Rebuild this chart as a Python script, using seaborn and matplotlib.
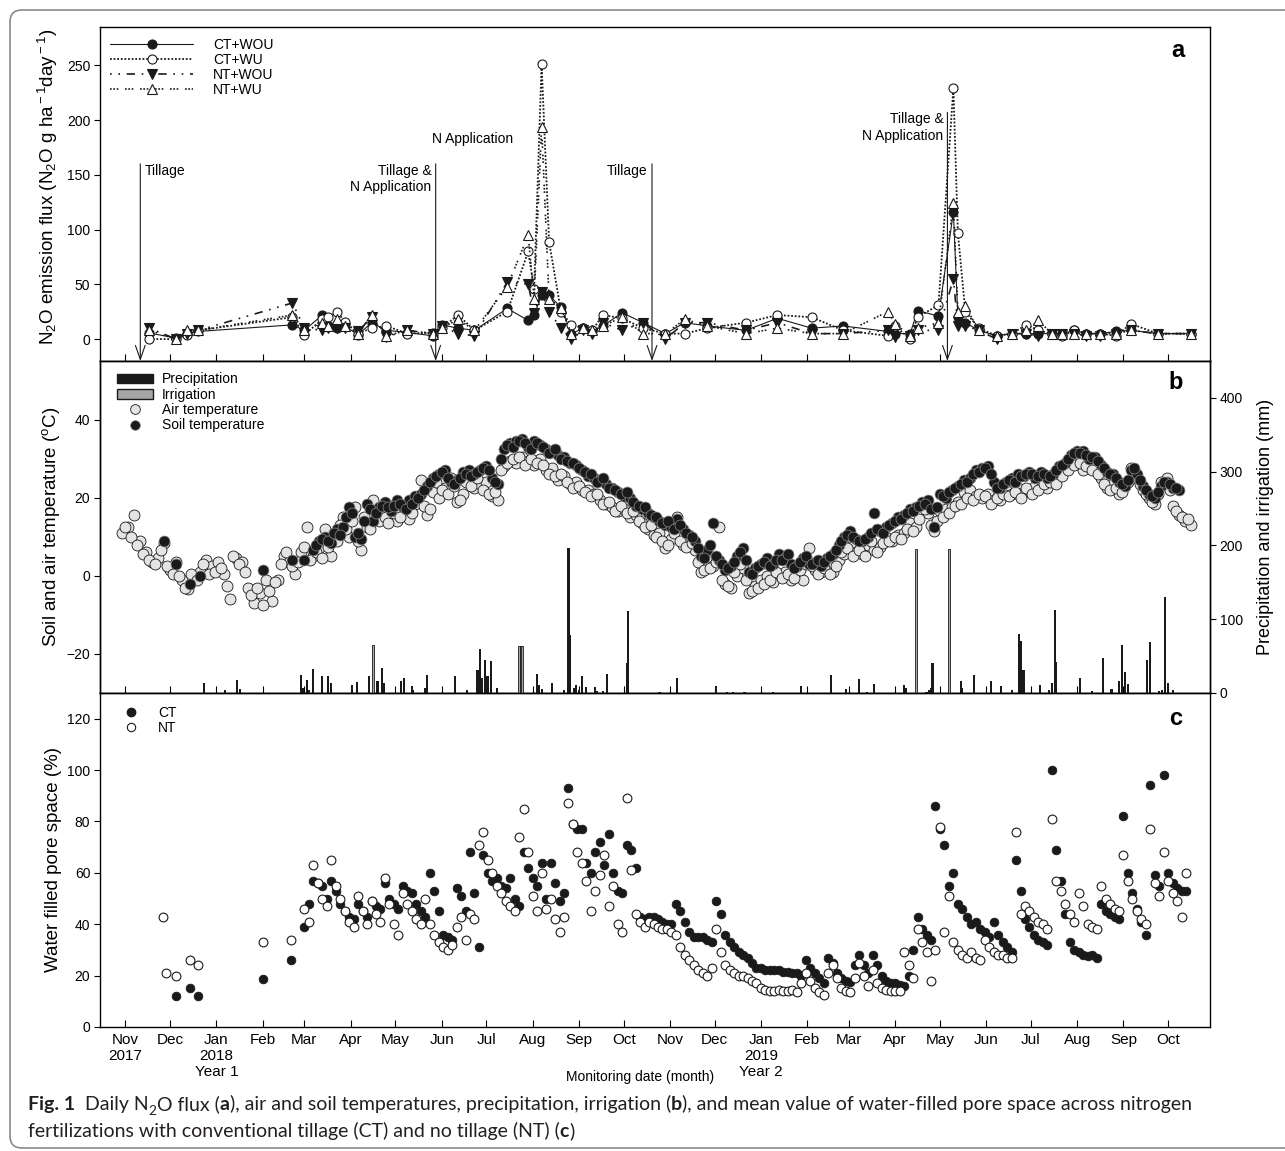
import matplotlib
matplotlib.use("Agg")
import matplotlib.pyplot as plt
import matplotlib.dates as mdates
from matplotlib.ticker import FuncFormatter
from matplotlib.lines import Line2D
from matplotlib.patches import Patch, FancyBboxPatch
from matplotlib.transforms import IdentityTransform
import pandas as pd
import seaborn as sns

# ---------------- data ----------------
# (a) daily N2O flux, g N2O ha-1 day-1
flux_dates = ['2017-11-17', '2017-12-05', '2017-12-12', '2017-12-20', '2018-02-21', '2018-03-01',
              '2018-03-13', '2018-03-17', '2018-03-23', '2018-03-28', '2018-04-06', '2018-04-15',
              '2018-04-25', '2018-05-09', '2018-05-26', '2018-06-01', '2018-06-12', '2018-06-23',
              '2018-07-15', '2018-07-29', '2018-08-02', '2018-08-07', '2018-08-12', '2018-08-20',
              '2018-08-27', '2018-09-04', '2018-09-10', '2018-09-17', '2018-09-30', '2018-10-14',
              '2018-10-29', '2018-11-11', '2018-11-26', '2018-12-22', '2019-01-12', '2019-02-04',
              '2019-02-25', '2019-03-27', '2019-04-01', '2019-04-11', '2019-04-16', '2019-04-30',
              '2019-05-10', '2019-05-13', '2019-05-18', '2019-05-27', '2019-06-08', '2019-06-18',
              '2019-06-28', '2019-07-06', '2019-07-15', '2019-07-22', '2019-07-30', '2019-08-07',
              '2019-08-16', '2019-08-27', '2019-09-06', '2019-09-24', '2019-10-16']
ct_wou = [5.5, 1, 5, 7, 13, 8, 22, 12, 10, 12, 4, 15, 8, 6, 3, 13, 10, 8, 28, 17, 22, 40, 40, 29, 5,
          10, 7, 12, 24, 15, 5, 15, 12, 8, 19, 10, 12, 7, 5, 5, 26, 21, 116, 20, 15, 8, 3, 5, 5, 5,
          5, 5, 8, 5, 5, 7, 8, 5, 5]
ct_wu = [0, 0, 4, 8, 20, 4, 18, 20, 25, 16, 5, 10, 12, 5, 6, 10, 22, 8, 25, 80, 46, 251, 89, 25, 13,
         10, 8, 22, 19, 10, 5, 5, 10, 15, 22, 20, 8, 3, 12, 0, 20, 31, 229, 97, 25, 10, 3, 5, 13, 8,
         5, 3, 8, 5, 5, 3, 14, 5, 5]
nt_wou = [10, 0, 5, 8, 33, 10, 8, 10, 10, 10, 7, 20, 2, 8, 5, 12, 5, 3, 52, 50, 24, 43, 25, 10, 0,
          8, 5, 15, 8, 15, 0, 15, 15, 8, 15, 5, 5, 8, 1.5, 3, 8, 8, 55, 12, 12, 8, 0, 5, 5, 3,
          5, 5, 5, 3, 3, 5, 8, 5, 5]
nt_wu = [8, 0, 8, 8, 22, 8, 15, 12, 18, 12, 5, 22, 3, 8, 5, 10, 18, 8, 48, 95, 37, 194, 37, 28, 5,
         10, 8, 12, 20, 5, 5, 18, 12, 5, 10, 5, 5, 25, 14, 3, 10, 15, 124, 25, 30, 8, 3, 5, 8, 17,
         5, 5, 5, 5, 5, 5, 8, 5, 5]
flux_labels = ['CT+WOU', 'CT+WU', 'NT+WOU', 'NT+WU']

event_dates = ['2017-11-11', '2018-05-28', '2018-10-20', '2019-05-06']
event_labels = ['Tillage', 'Tillage &\nN Application', 'Tillage', 'Tillage &\nN Application']
n_app_date = '2018-06-22'

# (b) air temperature, deg C: two interleaved 4-day readings
air_start = '2017-10-30'
air_temp = [11, 12.5, 15.5, 9, 6, 3.5, 4.5, 8.5, 1.5, 3.5,
            -1, -3.5, -0.5, 1, 4, 2.5, 3.5, 0.5, -6, 4.5,
            3.5, -3, -7, -4.5, -1, -6.5, -1, 5, 3.5, 0.5,
            6, 12.5, 5, 7, 12, 5, 9, 15, 10, 17.5,
            6.5, 12.5, 19.5, 14, 15, 18, 14, 17, 14.5, 18.5,
            24.5, 15.5, 21.5, 20, 22.5, 25, 19, 21, 25.5, 22.5,
            23.5, 24, 20.5, 19.5, 28, 29.5, 29, 30.5, 29.5, 28.5,
            30, 27, 27.5, 24.5, 25.5, 23.5, 24, 22, 22, 21,
            19.5, 18.5, 17.5, 16.5, 17, 15, 15.5, 13.5, 12, 10.5,
            11, 7, 9.5, 15, 8, 9.5, 6.5, 1, 4, 2.5,
            12.5, -2, -3, 0, 2, -4.5, -2.5, -1, 0, -1.5,
            0.5, 1, -1, 0.5, -1, 7, 1.5, 1, 3, 1,
            4, 5.5, 7.5, 6, 5.5, 8, 6.5, 7.5, 10, 9,
            10.5, 11, 13.5, 12.5, 18.5, 16, 11.5, 16.5, 17, 17.5,
            19, 21.5, 22, 20.5, 20, 21, 19.5, 19.5, 22, 21,
            22.5, 21.5, 22, 23, 24.5, 22.5, 25, 26, 27.5, 29.5,
            30.5, 27, 28.5, 27.5, 25, 22.5, 23.5, 21, 23, 27.5,
            25, 22, 20, 18.5, 24, 25, 18, 15.5, 14, 13]
air_start_b = '2017-11-01'
air_temp_b = [12.5, 10, 8, 5.5, 4, 3, 6.5, 2.5, 0.5, 0,
              -3, 0.5, -1, 3, 0.5, 1, 2, -2.5, 5, 3,
              1, -5, -3, -7.5, -4, -1.5, 3, 6, 2.5, 3.5,
              7.5, 4, 6, 4.5, 7.5, 11, 13, 12, 14, 9,
              15, 12, 16, 17.5, 13.5, 16, 15, 18, 16, 20,
              18, 17, 24, 22, 21, 23, 19.5, 24, 23, 25,
              22, 21, 21.5, 27, 29, 30, 30.5, 28.5, 30, 29,
              28.5, 26, 25.5, 26, 24, 22.5, 23, 21.5, 20.5, 21,
              18.5, 19, 16.5, 18, 16, 16.5, 14, 12.5, 13, 10,
              9, 8, 11, 9, 7.5, 8.5, 3.5, 1.5, 2, 3.5,
              -1, -2.5, 1, 3, -1, -4, -3, -2, -1, 1,
              -0.5, 0.5, -0.5, 1.5, 3, 2.5, 0.5, 2, 0.5, 2.5,
              6, 7, 5, 6.5, 5, 9, 6, 8.5, 9, 10,
              9.5, 12, 11.5, 14.5, 17, 13, 14, 15, 16, 18,
              18.5, 20, 19.5, 21, 20.5, 18.5, 20, 21, 20.5, 21.5,
              20, 22.5, 21, 22, 23.5, 24, 23.5, 25.5, 27, 28.5,
              29, 28, 27, 26, 23.5, 22, 22.5, 21.5, 24, 26,
              23.5, 21, 19, 21, 23.5, 22, 16.5, 15, 14.5]
# soil temperature: a few early readings, then two interleaved 4-day readings
soil_early_dates = ['2017-11-27', '2017-12-05', '2017-12-14', '2017-12-21', '2018-02-01',
                    '2018-02-21', '2018-03-01']
soil_early_temp = [9, 3, -2, 0, 1.5, 4, 4]
soil_start = '2018-03-07'
soil_temp = [6.5, 9, 10, 8.5, 12, 12.5, 17.5, 10, 9.5, 18.5,
             14, 17.5, 19, 16.5, 19.5, 17.5, 19.5, 20.5, 21, 23,
             25, 26, 27, 24, 24.5, 26.5, 27, 26, 27, 28,
             25, 23.5, 32.5, 34, 34.5, 35, 33, 34.5, 33.5, 32.5,
             32, 31, 30.5, 29, 28.5, 27, 25.5, 25, 24.5, 23.5,
             22.5, 21.5, 20.5, 20, 18, 17, 16, 15, 14, 13,
             12.5, 14.5, 12, 10.5, 9, 5, 6.5, 13.5, 4, 1.5,
             2.5, 5, 7, 1, 2, 3, 4.5, 3, 5.5, 4.5,
             3, 2.5, 4.5, 3, 3.5, 2.5, 4.5, 5.5, 8, 10,
             11.5, 9.5, 9, 10, 16, 11.5, 12.5, 13.5, 15, 15.5,
             17, 17.5, 19, 19.5, 12.5, 21, 20, 22, 23, 24.5,
             25, 27, 27.5, 28, 24, 22.5, 24, 25, 26, 25.5,
             26.5, 25, 26.5, 25, 26, 28, 29, 31, 32, 32,
             30, 30.5, 28.5, 26.5, 26, 24, 23, 27, 26, 23,
             21, 20, 23, 24, 22.5, 22]
soil_start_b = '2018-03-09'
soil_temp_b = [8, 9.5, 9, 11, 10.5, 15, 16, 11, 14, 17,
               16, 18, 17.5, 18, 18.5, 17, 18.5, 20, 22, 24,
               25.5, 26.5, 25, 23.5, 25, 26, 25.5, 26.5, 27.5, 27,
               24, 30, 33.5, 33, 34.5, 34, 32.5, 34, 33, 31.5,
               32.5, 30, 29.5, 29, 27.5, 26.5, 26, 24, 25, 22.5,
               22, 21, 21.5, 19, 18, 17.5, 15.5, 15, 13.5, 14,
               12, 13, 11, 10, 7, 4.5, 8, 5, 3, 2,
               3.5, 6, 4, 0.5, 2.5, 3.5, 2.5, 4, 4, 5.5,
               2, 3.5, 5, 3, 4, 3.5, 5, 6.5, 9, 10.5,
               10, 9, 9.5, 11, 12, 11, 13, 14, 14.5, 16,
               16.5, 18, 18.5, 17, 17.5, 20.5, 21.5, 22.5, 23.5, 24,
               26, 26.5, 27.5, 26, 22.5, 23.5, 24.5, 24, 25.5, 26,
               26, 25.5, 26, 25.5, 27, 28.5, 30, 31.5, 31.5, 31,
               30.5, 29.5, 27.5, 26, 25, 23.5, 24.5, 27.5, 24.5, 22,
               20.5, 21.5, 24, 23.5, 22.5]

# precipitation and irrigation, mm
precip_dates = ['2017-12-24', '2018-01-07', '2018-01-15', '2018-01-17', '2018-02-27', '2018-02-28',
                '2018-03-03', '2018-03-04', '2018-03-07', '2018-03-13', '2018-03-17', '2018-03-19',
                '2018-04-02', '2018-04-05', '2018-04-13', '2018-04-19', '2018-04-22', '2018-04-23',
                '2018-05-05', '2018-05-07', '2018-05-12', '2018-05-13', '2018-05-21', '2018-05-22',
                '2018-06-10', '2018-06-18', '2018-06-25', '2018-06-27', '2018-06-28', '2018-06-30',
                '2018-07-01', '2018-07-02', '2018-07-04', '2018-07-08', '2018-08-04', '2018-08-05',
                '2018-08-07', '2018-08-14', '2018-08-22', '2018-08-25', '2018-08-26', '2018-08-29',
                '2018-08-30', '2018-09-01', '2018-09-03', '2018-09-06', '2018-09-12', '2018-09-13',
                '2018-09-17', '2018-09-20', '2018-10-03', '2018-10-04', '2018-10-25', '2018-11-06',
                '2018-12-02', '2018-12-09', '2018-12-13', '2018-12-21', '2019-01-09', '2019-01-28',
                '2019-02-17', '2019-02-27', '2019-03-08', '2019-03-13', '2019-03-18', '2019-04-07',
                '2019-04-08', '2019-04-22', '2019-04-24', '2019-04-25', '2019-04-26', '2019-05-15',
                '2019-05-16', '2019-05-24', '2019-06-04', '2019-06-11', '2019-06-18', '2019-06-23',
                '2019-06-24', '2019-06-26', '2019-07-07', '2019-07-13', '2019-07-15', '2019-07-17',
                '2019-07-18', '2019-08-03', '2019-08-11', '2019-08-18', '2019-08-24', '2019-08-29',
                '2019-08-31', '2019-09-02', '2019-09-04', '2019-09-17', '2019-09-19', '2019-09-25',
                '2019-09-27', '2019-09-29', '2019-10-01', '2019-10-04']
precip_mm = [13, 4.5, 17, 5, 25, 7,
             18, 4.5, 32, 23, 23, 13.5,
             11, 15, 23.5, 16, 34, 13.5,
             16, 20, 10, 4.5, 7, 25,
             23, 4.5, 31, 60, 20, 45,
             23, 23, 44, 7, 26, 11,
             5.4, 13.5, 4.5, 197, 79, 7,
             11, 4.5, 23.5, 8, 7.7, 3,
             3, 26, 40, 111, 2, 20,
             10, 1, 1.5, 1.5, 1.5, 9,
             25, 5, 19, 2, 12.6, 11,
             7, 2, 4.5, 7, 41, 16,
             7, 25, 16, 10, 4.5, 80,
             70, 31, 11, 4.5, 13.6, 113,
             42, 21, 3, 47, 5.4, 16,
             65, 28, 12, 45, 69, 3,
             4.5, 130, 13.6, 4.5]
irrig_dates = ['2018-04-16', '2018-07-23', '2018-07-24', '2018-07-25', '2019-04-15', '2019-05-07']
irrig_mm = [65, 64, 64, 64, 195, 195]

# (c) water filled pore space (%), sparse early readings then every 3 days from 2018-03-01
ct_early_dates = ['2017-12-05', '2017-12-14', '2017-12-20', '2018-02-01', '2018-02-20']
ct_early = [12, 15, 12, 18.5, 26]
nt_early_dates = ['2017-11-26', '2017-11-28', '2017-12-05', '2017-12-14', '2017-12-20',
                  '2018-02-01', '2018-02-20']
nt_early = [43, 21, 20, 26, 24, 33, 34]
wfps_start = '2018-03-01'
wfps_ct = [39, 48, 57, 56, 55, 50, 57, 53, 48, 45,
           43, 42, 48, 45, 43, 49, 47, 46, 56, 50,
           48, 46, 55, 53, 52, 48, 45, 43, 60, 53,
           45, 36, 35, 34, 54, 51, 45, 68, 52, 31,
           67, 60, 57, 58, 55, 54, 58, 50, 47, 68,
           62, 58, 55, 64, 50, 64, 56, 49, 52, 93,
           79, 77, 77, 64, 60, 68, 72, 63, 75, 60,
           53, 52, 71, 69, 62, 43, 42, 43, 43, 42,
           41, 40, 40, 48, 45, 41, 37, 35, 35, 35,
           34, 33, 49, 44, 36, 33, 31, 29, 28, 27,
           25, 23, 23, 22, 22, 22, 22, 21.5, 21.5, 21,
           21, 20, 26, 23, 21, 19, 17, 27, 25, 21,
           19, 18, 17.5, 24, 28, 24, 21, 28, 24, 20,
           18, 17, 17, 16.5, 16, 20, 30, 43, 38, 36,
           34, 86, 77, 71, 55, 60, 48, 46, 43, 40,
           41, 38, 37, 35, 41, 36, 33, 31, 29, 65,
           53, 42, 39, 36, 34, 33, 32, 100, 69, 57,
           44, 33, 30, 29, 28, 27.5, 28, 27, 48, 45,
           44, 43, 42, 82, 60, 52, 46, 41, 36, 94,
           59, 55, 98, 60, 56, 54, 53, 53]
wfps_nt = [46, 41, 63, 56, 50, 47, 65, 55, 50, 45,
           41, 39, 51, 45, 40, 49, 44, 41, 58, 48,
           40, 36, 52, 48, 45, 42, 40, 50, 40, 36,
           33, 31, 30, 32, 39, 43, 34, 44, 42, 71,
           76, 65, 60, 55, 52, 49, 47, 45, 74, 85,
           68, 51, 45, 60, 46, 50, 42, 37, 43, 87,
           79, 68, 64, 57, 45, 53, 59, 67, 47, 55,
           40, 37, 89, 61, 44, 41, 39, 41, 40, 39,
           38, 38, 37, 36, 31, 28, 26, 24, 22, 21,
           20, 23, 38, 29, 24, 22, 21, 20, 20, 19,
           18, 17, 15, 14.5, 14, 14, 14.5, 14, 14, 14.5,
           13.5, 17, 21, 18, 15, 13.5, 12.5, 21, 24, 19,
           15, 14, 13.5, 19, 25, 20, 16, 22, 17, 15,
           14.5, 14, 14, 14, 29, 24, 19, 38, 33, 29,
           18, 30, 78, 37, 51, 33, 30, 28, 27, 29,
           27, 26, 34, 31, 29, 28, 28, 27, 27, 76,
           44, 47, 45, 43, 41, 40, 38, 81, 57, 53,
           48, 44, 41, 52, 47, 40, 39, 38, 55, 50,
           48, 46, 45, 67, 57, 50, 45, 42, 40, 77,
           56, 51, 68, 57, 52, 49, 43, 60]

# ---------------- style ----------------
sns.set_theme(style="ticks")
plt.rcParams["font.family"] = ["Liberation Sans", "DejaVu Sans"]
plt.rcParams["mathtext.fontset"] = "custom"
plt.rcParams["mathtext.rm"] = "Liberation Sans"
plt.rcParams["mathtext.it"] = "Liberation Sans:italic"
plt.rcParams["mathtext.bf"] = "Liberation Sans:bold"
for k in ["text.color", "axes.labelcolor", "xtick.color", "ytick.color", "axes.edgecolor"]:
    plt.rcParams[k] = "black"
plt.rcParams["axes.linewidth"] = 1.0

W, H = 1285, 1151
fig = plt.figure(figsize=(W / 100, H / 100), dpi=100)


def rect(top, bottom):
    return [100 / W, 1 - bottom / H, 1110 / W, (bottom - top) / H]


axa = fig.add_axes(rect(27, 361))
axb = fig.add_axes(rect(361, 693), sharex=axa)
axc = fig.add_axes(rect(693, 1027), sharex=axa)
axr = axb.twinx()

# ---------------- (a) flux ----------------
fd = pd.to_datetime(flux_dates)
styles = [
    dict(linestyle="-", linewidth=0.8, marker="o", markerfacecolor="k"),
    dict(linestyle=(0, (1, 1)), linewidth=1.3, marker="o", markerfacecolor="white"),
    dict(linestyle=(0, (1, 4, 1, 4, 5, 4)), linewidth=1.2, marker="v", markerfacecolor="k"),
    dict(linestyle=(0, (1, 1, 1, 1, 1, 4)), linewidth=1.2, marker="^", markerfacecolor="white"),
]
for vals, st in zip([ct_wou, ct_wu, nt_wou, nt_wu], styles):
    sns.lineplot(x=fd, y=vals, ax=axa, color="k", markersize=6.5, markeredgecolor="k",
                 markeredgewidth=0.8, **st)

tops = [160, 160, 160, 207]
for d, lab, top in zip(event_dates, event_labels, tops):
    xd = mdates.date2num(pd.Timestamp(d))
    axa.annotate("", xy=(xd, -20), xytext=(xd, top),
                 arrowprops=dict(arrowstyle="->,head_length=1.0,head_width=0.35", lw=0.8,
                                 color="k", shrinkA=0, shrinkB=0, mutation_scale=10))
    left = lab == "Tillage" and d < "2018"
    axa.annotate(lab, xy=(xd, top), xytext=(3 if left else -3, 0), textcoords="offset points",
                 ha="left" if left else "right", va="top", fontsize=10,
                 multialignment="right")
axa.text(mdates.date2num(pd.Timestamp(n_app_date)), 183, "N Application", ha="center",
         va="center", fontsize=10)

ha_handles = [Line2D([], [], color="k", markersize=6.5, markeredgecolor="k",
                     markeredgewidth=0.8, **st) for st in styles]
axa.legend(ha_handles, flux_labels, loc="upper left", bbox_to_anchor=(0.009, 0.968),
           frameon=False, fontsize=10, handlelength=6, handletextpad=1.4,
           labelspacing=0.08, borderpad=0, borderaxespad=0)

# ---------------- (b) temperature + rain ----------------
air_sets = [(pd.date_range(air_start, periods=len(air_temp), freq="4D"), air_temp),
            (pd.date_range(air_start_b, periods=len(air_temp_b), freq="4D"), air_temp_b)]
soil_sets = [(pd.to_datetime(soil_early_dates), soil_early_temp),
             (pd.date_range(soil_start, periods=len(soil_temp), freq="4D"), soil_temp),
             (pd.date_range(soil_start_b, periods=len(soil_temp_b), freq="4D"), soil_temp_b)]
for dts, vals in air_sets:
    sns.scatterplot(x=dts, y=vals, ax=axb, s=62, color="#e4e4e4", edgecolor="k",
                    linewidth=0.6, zorder=3, legend=False)
for dts, vals in soil_sets:
    sns.scatterplot(x=dts, y=vals, ax=axb, s=62, color="k", edgecolor="#8c8c8c",
                    linewidth=0.5, zorder=4, legend=False)
axr.bar(pd.to_datetime(precip_dates), precip_mm, width=1.4, color="k", linewidth=0)
axr.bar(pd.to_datetime(irrig_dates), irrig_mm, width=1.6, color="#a6a6a6", edgecolor="k",
        linewidth=0.6)

hb = [Patch(facecolor="k", edgecolor="k"), Patch(facecolor="#a6a6a6", edgecolor="k"),
      Line2D([], [], ls="none", marker="o", ms=7, mfc="#e4e4e4", mec="k", mew=0.6),
      Line2D([], [], ls="none", marker="o", ms=7, mfc="k", mec="#8c8c8c", mew=0.5)]
axb.legend(hb, ["Precipitation", "Irrigation", "Air temperature", "Soil temperature"],
           loc="upper left", bbox_to_anchor=(0.0153, 0.966), frameon=False, fontsize=10,
           handlelength=2.6, handleheight=0.7, handletextpad=0.65, labelspacing=0.1,
           borderpad=0, borderaxespad=0)

# ---------------- (c) WFPS ----------------
wd = pd.date_range(wfps_start, periods=len(wfps_ct), freq="3D")
sns.scatterplot(x=pd.to_datetime(ct_early_dates), y=ct_early, ax=axc, s=40, color="k",
                edgecolor="k", linewidth=0.5, legend=False)
sns.scatterplot(x=wd, y=wfps_ct, ax=axc, s=40, color="k", edgecolor="k", linewidth=0.5,
                legend=False)
sns.scatterplot(x=pd.to_datetime(nt_early_dates), y=nt_early, ax=axc, s=40, color="white",
                edgecolor="k", linewidth=0.8, legend=False)
sns.scatterplot(x=wd, y=wfps_nt, ax=axc, s=40, color="white", edgecolor="k", linewidth=0.8,
                legend=False)
hc = [Line2D([], [], ls="none", marker="o", ms=6, mfc="k", mec="k"),
      Line2D([], [], ls="none", marker="o", ms=6, mfc="white", mec="k", mew=0.8)]
axc.legend(hc, ["CT", "NT"], loc="upper left", bbox_to_anchor=(0.0216, 0.962), frameon=False,
           fontsize=10, handlelength=1.0, handletextpad=1.45, labelspacing=0.1, borderpad=0,
           borderaxespad=0)

# ---------------- axes ----------------
axa.set_xlim(pd.Timestamp("2017-10-15"), pd.Timestamp("2019-10-29"))
axa.set_ylim(-20, 285)
axa.set_yticks(range(0, 251, 50))
axb.set_ylim(-30, 55)
axb.set_yticks([-20, 0, 20, 40])
axr.set_ylim(0, 450)
axr.set_yticks(range(0, 401, 100))
axc.set_ylim(0, 130)
axc.set_yticks(range(0, 121, 20))


def month_label(x, pos):
    d = mdates.num2date(x)
    s = d.strftime("%b")
    if d.year == 2017 and d.month == 11:
        s += "\n2017"
    if d.month == 1:
        s += "\n%d\nYear %d" % (d.year, d.year - 2017)
    return s


axc.xaxis.set_major_locator(mdates.MonthLocator())
axc.xaxis.set_major_formatter(FuncFormatter(month_label))
for ax in (axa, axb, axc):
    ax.tick_params(axis="x", direction="in", length=5, width=0.8, labelsize=11, pad=4)
    ax.tick_params(axis="y", direction="out", length=4, width=0.8, labelsize=10, pad=3)
    ax.set_xlabel("")
    for s in ax.spines.values():
        s.set_visible(True)
axr.tick_params(axis="y", direction="out", length=4, width=0.8, labelsize=10, pad=3)
axa.tick_params(axis="x", labelbottom=False)
axb.tick_params(axis="x", labelbottom=False)

axa.set_ylabel(r"N$_{\rm 2}$O emission flux (N$_{\rm 2}$O g ha$^{\rm -1}$day$^{\rm -1}$)",
               fontsize=13.5)
axa.yaxis.set_label_coords(-0.036, 0.52)
axb.set_ylabel(r"Soil and air temperature ($^{\rm o}$C)", fontsize=13.5)
axb.yaxis.set_label_coords(-0.034, 0.5)
axr.set_ylabel("Precipitation and irrigation (mm)", fontsize=13)
axr.yaxis.set_label_coords(1.042, 0.5)
axc.set_ylabel("Water filled pore space (%)", fontsize=13.5)
axc.yaxis.set_label_coords(-0.034, 0.5)

for ax, letter, (lx, ly) in zip((axa, axb, axc), "abc",
                                [(0.971, 0.931), (0.969, 0.934), (0.969, 0.925)]):
    ax.text(lx, ly, letter, transform=ax.transAxes, fontsize=17, fontweight="bold",
            ha="center", va="center")

fig.text(640 / W, 1 - 1077 / H, "Monitoring date (month)", ha="center", va="center",
         fontsize=10)

# ---------------- caption & frame ----------------
frame = FancyBboxPatch((10, 3), 1320, H - 13, boxstyle="round,pad=0,rounding_size=12",
                       transform=IdentityTransform(), facecolor="none", edgecolor="#8a8a8a",
                       linewidth=1.2)
fig.add_artist(frame)

cap1 = [("Fig. 1", True, False), ("  Daily N", False, False), ("2", False, True),
        ("O flux (", False, False), ("a", True, False),
        ("), air and soil temperatures, precipitation, irrigation (", False, False),
        ("b", True, False),
        ("), and mean value of water-filled pore space across nitrogen", False, False)]
cap2 = [("fertilizations with conventional tillage (CT) and no tillage (NT) (", False, False),
        ("c", True, False), (")", False, False)]

renderer = fig.canvas.get_renderer()


def put_runs(runs, x0, y_img, size):
    x = x0
    made = []
    for txt, bold, sub in runs:
        fs = size * (0.7 if sub else 1.0)
        dy = 0.28 * size * 1.389 if sub else 0
        t = fig.text(x, H - y_img - dy, txt, transform=IdentityTransform(), fontsize=fs,
                     fontweight="bold" if bold else "normal", family="Lato",
                     color="#231f20", ha="left", va="baseline")
        made.append(t)
        x = t.get_window_extent(renderer).x1
    return x, made


end, tmp = put_runs(cap1, 28, 1110, 12)
for t in tmp:
    t.remove()
size = 12 * (1185 - 28) / (end - 28)
put_runs(cap1, 28, 1110, size)
put_runs(cap2, 28, 1137, size)

fig.savefig("out.png", dpi=100)
